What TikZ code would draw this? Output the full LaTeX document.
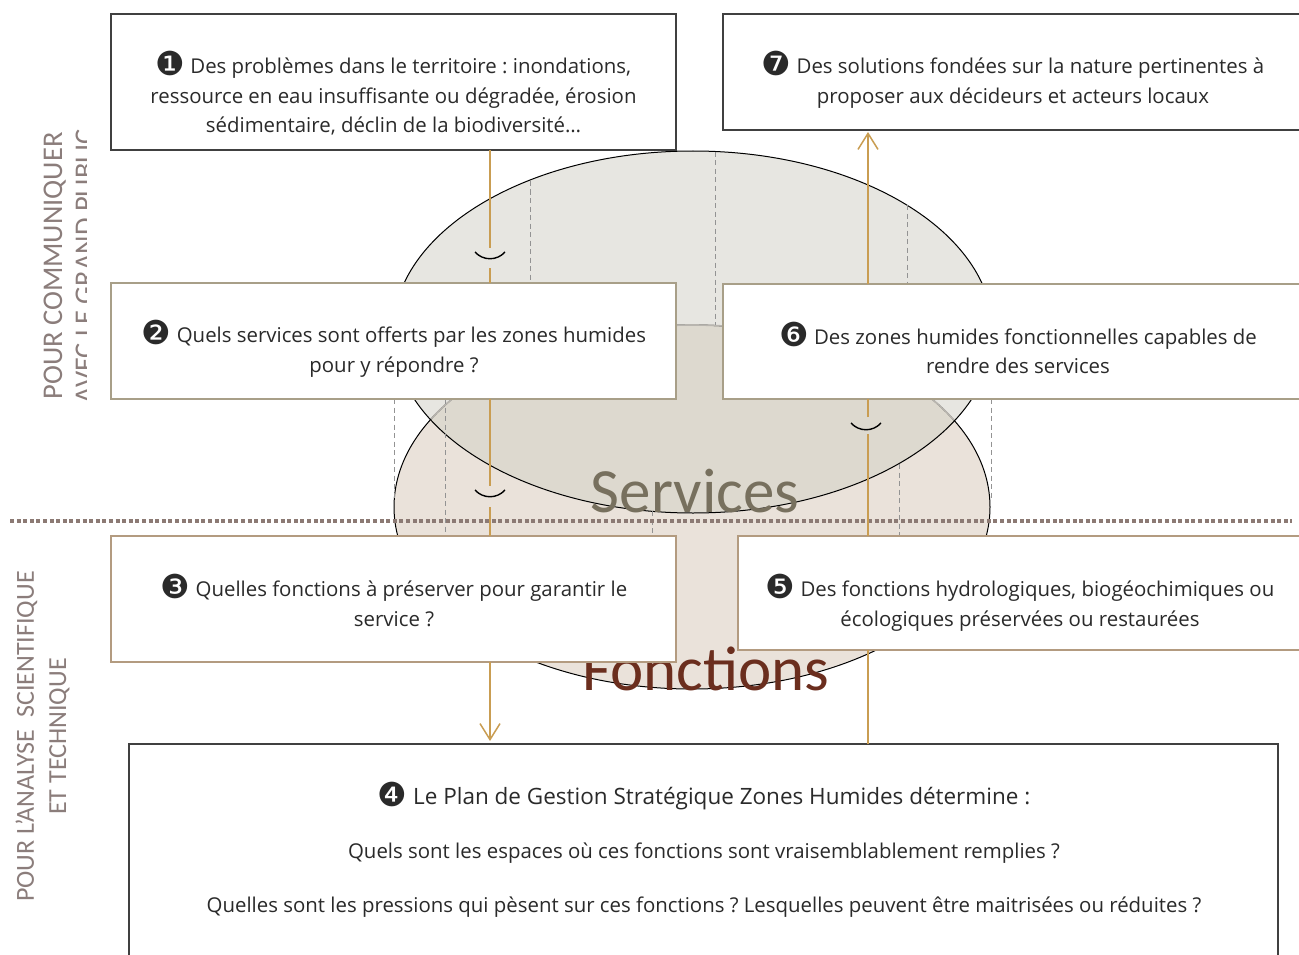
\documentclass[tikz,border=0pt]{standalone}
\usepackage{fontspec}
\setmainfont{Carlito}
\newfontfamily\boxfont{Open Sans}
\newfontfamily\dejavu{DejaVu Sans}
\usetikzlibrary{arrows.meta}
\frenchspacing
\definecolor{gold}{HTML}{C99D52}
\definecolor{serfill}{HTML}{E7E6E1}
\definecolor{fonfill}{HTML}{EAE2DA}
\definecolor{overfill}{HTML}{DDD9CF}
\definecolor{sertext}{HTML}{77705E}
\definecolor{fontext}{HTML}{6B2E1E}
\definecolor{ink}{HTML}{2A2A2A}
\definecolor{boxdark}{HTML}{404040}
\definecolor{boxolive}{HTML}{A89F88}
\definecolor{boxtan}{HTML}{B39B80}
\definecolor{dotcol}{HTML}{8C7A74}
\definecolor{labcol}{HTML}{8B7D7B}
\newcommand\bdg[1]{\smash{\dejavu\fontsize{33}{33}\selectfont\raisebox{-2pt}{#1}}}
\begin{document}
\begin{tikzpicture}[x=1pt,y=-1pt,
  boxbase/.style={rectangle, inner sep=0pt, outer sep=0pt, fill=white, line width=1.2pt},
  bxdark/.style={boxbase, draw=boxdark},
  bxolive/.style={boxbase, draw=boxolive},
  bxtan/.style={boxbase, draw=boxtan},
  txt/.style={font=\boxfont\fontsize{20.4}{29.5}\selectfont\frenchspacing, text=ink, align=center, inner sep=0pt},
  dashv/.style={draw=gray!85, line width=0.8pt, dash pattern=on 5pt off 3.5pt},
  goldline/.style={draw=gold, line width=1.5pt},
  jump/.style={draw=black, line width=1.4pt},
  lab/.style={text=labcol, inner sep=0pt, anchor=base, rotate=90},
  big/.style={font=\fontsize{63}{63}\selectfont, inner sep=0pt, anchor=base}]
\useasboundingbox (0,0) rectangle (1299,955);
\clip (0,0) rectangle (1299,955);
\fill[white] (0,0) rectangle (1299,955);
% ellipses
\coordinate (eS) at (693,332);
\coordinate (eF) at (692,507);
\fill[fonfill] (eF) ellipse [x radius=298, y radius=182];
\fill[serfill] (eS) ellipse [x radius=300, y radius=181];
\begin{scope}
  \clip (eF) ellipse [x radius=298, y radius=182];
  \fill[overfill] (eS) ellipse [x radius=300, y radius=181];
\end{scope}
\draw[black, line width=1pt] (eF) ellipse [x radius=298, y radius=182];
\begin{scope}
  \clip (eS) ellipse [x radius=299, y radius=180];
  \draw[draw=overfill!60!gray, line width=1.6pt] (eF) ellipse [x radius=298, y radius=182];
\end{scope}
\draw[black, line width=1pt] (eS) ellipse [x radius=300, y radius=181];
\node[big, text=sertext] (serv) at (695,512) {Services};
\node[big, text=fontext] (fonc) at (706,690) {Fonctions};
% dashed verticals
\draw[dashv] (530,181) -- (530,283);
\draw[dashv] (715,152) -- (715,325);
\draw[dashv] (907,205) -- (907,284);
\draw[dashv] (394,399) -- (394,500);
\draw[dashv] (445,399) -- (445,536);
\draw[dashv] (652,511) -- (652,536);
\draw[dashv] (899,464) -- (899,536);
\draw[dashv] (991,399) -- (991,500);
% dotted separator
\coordinate (sepL) at (10,521);
\coordinate (sepR) at (1292,521);
\draw[draw=dotcol, line width=4pt, dash pattern=on 4pt off 2.6pt] (sepL) -- (sepR);
% boxes
\node[bxdark, minimum width=565pt, minimum height=136pt] (b1) at (393.5,82) {};
\node[bxdark, minimum width=587pt, minimum height=116pt] (b7) at (1016.5,72) {};
\node[bxolive, minimum width=565pt, minimum height=116pt] (b2) at (393.5,341) {};
\node[bxolive, minimum width=587pt, minimum height=115pt] (b6) at (1016.5,341.5) {};
\node[bxtan, minimum width=565pt, minimum height=126pt] (b3) at (393.5,599) {};
\node[bxtan, minimum width=572pt, minimum height=114pt] (b5) at (1024,593) {};
\node[bxdark, minimum width=1149pt, minimum height=226pt] (b4) at (703.5,857) {};
% gold connectors
\coordinate (cL) at (490,0);
\coordinate (cR) at (868,0);
\draw[goldline] (b1.south -| cL) -- (490,248);
\draw[goldline] (490,268) -- (b2.north -| cL);
\draw[goldline] (b2.south -| cL) -- (490,486);
\draw[goldline] (490,507) -- (b3.north -| cL);
\draw[goldline, -{Straight Barb[length=16pt, width=20pt]}, shorten >=3pt] (b3.south -| cL) -- (b4.north -| cL);
\draw[goldline] (b4.north -| cR) -- (b5.south -| cR);
\draw[goldline] (b5.north -| cR) -- (868,434);
\draw[goldline] (868,417) -- (b6.south -| cR);
\draw[goldline, -{Straight Barb[length=16pt, width=20pt]}, shorten >=2pt] (b6.north -| cR) -- (b7.south -| cR);
% line jumps
\draw[jump] (475,252) .. controls (483,261) and (497,261) .. (505,252);
\draw[jump] (475,490) .. controls (483,499) and (497,499) .. (505,490);
\draw[jump] (851,423) .. controls (859,432) and (873,432) .. (881,423);
% texts
\node[txt] (t1) at (393.5,97) {\bdg{❶}\hspace{5pt}Des problèmes dans le territoire : inondations,\\ressource en eau insuffisante ou dégradée, érosion\\sédimentaire, déclin de la biodiversité…};
\node[txt] (t7) at (1013,83) {\bdg{❼} Des solutions fondées sur la nature pertinentes à\\proposer aux décideurs et acteurs locaux};
\node[txt] (t2) at (394,352) {\bdg{❷} Quels services sont offerts par les zones humides\\pour y répondre ?};
\node[txt] (t6) at (1018,351.5) {\bdg{❻} Des zones humides fonctionnelles capables de\\rendre des services};
\node[txt] (t3) at (394,604) {\bdg{❸} Quelles fonctions à préserver pour garantir le\\service ?};
\node[txt] (t5) at (1020,606) {\bdg{❺} Des fonctions hydrologiques, biogéochimiques ou\\écologiques préservées ou restaurées};
\node[txt, font=\boxfont\fontsize{20.4}{54}\selectfont\frenchspacing] (t4) at (704,852) {{\fontsize{22.5}{54}\selectfont\bdg{❹} Le Plan de Gestion Stratégique Zones Humides détermine :}\\Quels sont les espaces où ces fonctions sont vraisemblablement remplies ?\\Quelles sont les pressions qui pèsent sur ces fonctions ? Lesquelles peuvent être maitrisées ou réduites ?};
% left labels
\node[lab, font=\fontsize{28.5}{28.5}\selectfont] (l1) at (62,266) {POUR COMMUNIQUER};
\begin{scope}
  \clip (60,100) rectangle (86,420);
  \node[lab, font=\fontsize{28.5}{28.5}\selectfont] (l2) at (94,266) {AVEC LE GRAND PUBLIC};
\end{scope}
\node[lab, font=\fontsize{26}{26}\selectfont] (l3) at (34,736.5) {POUR L’ANALYSE\ \ SCIENTIFIQUE};
\node[lab, font=\fontsize{26}{26}\selectfont] (l4) at (66,736.5) {ET TECHNIQUE};
\end{tikzpicture}
\end{document}
